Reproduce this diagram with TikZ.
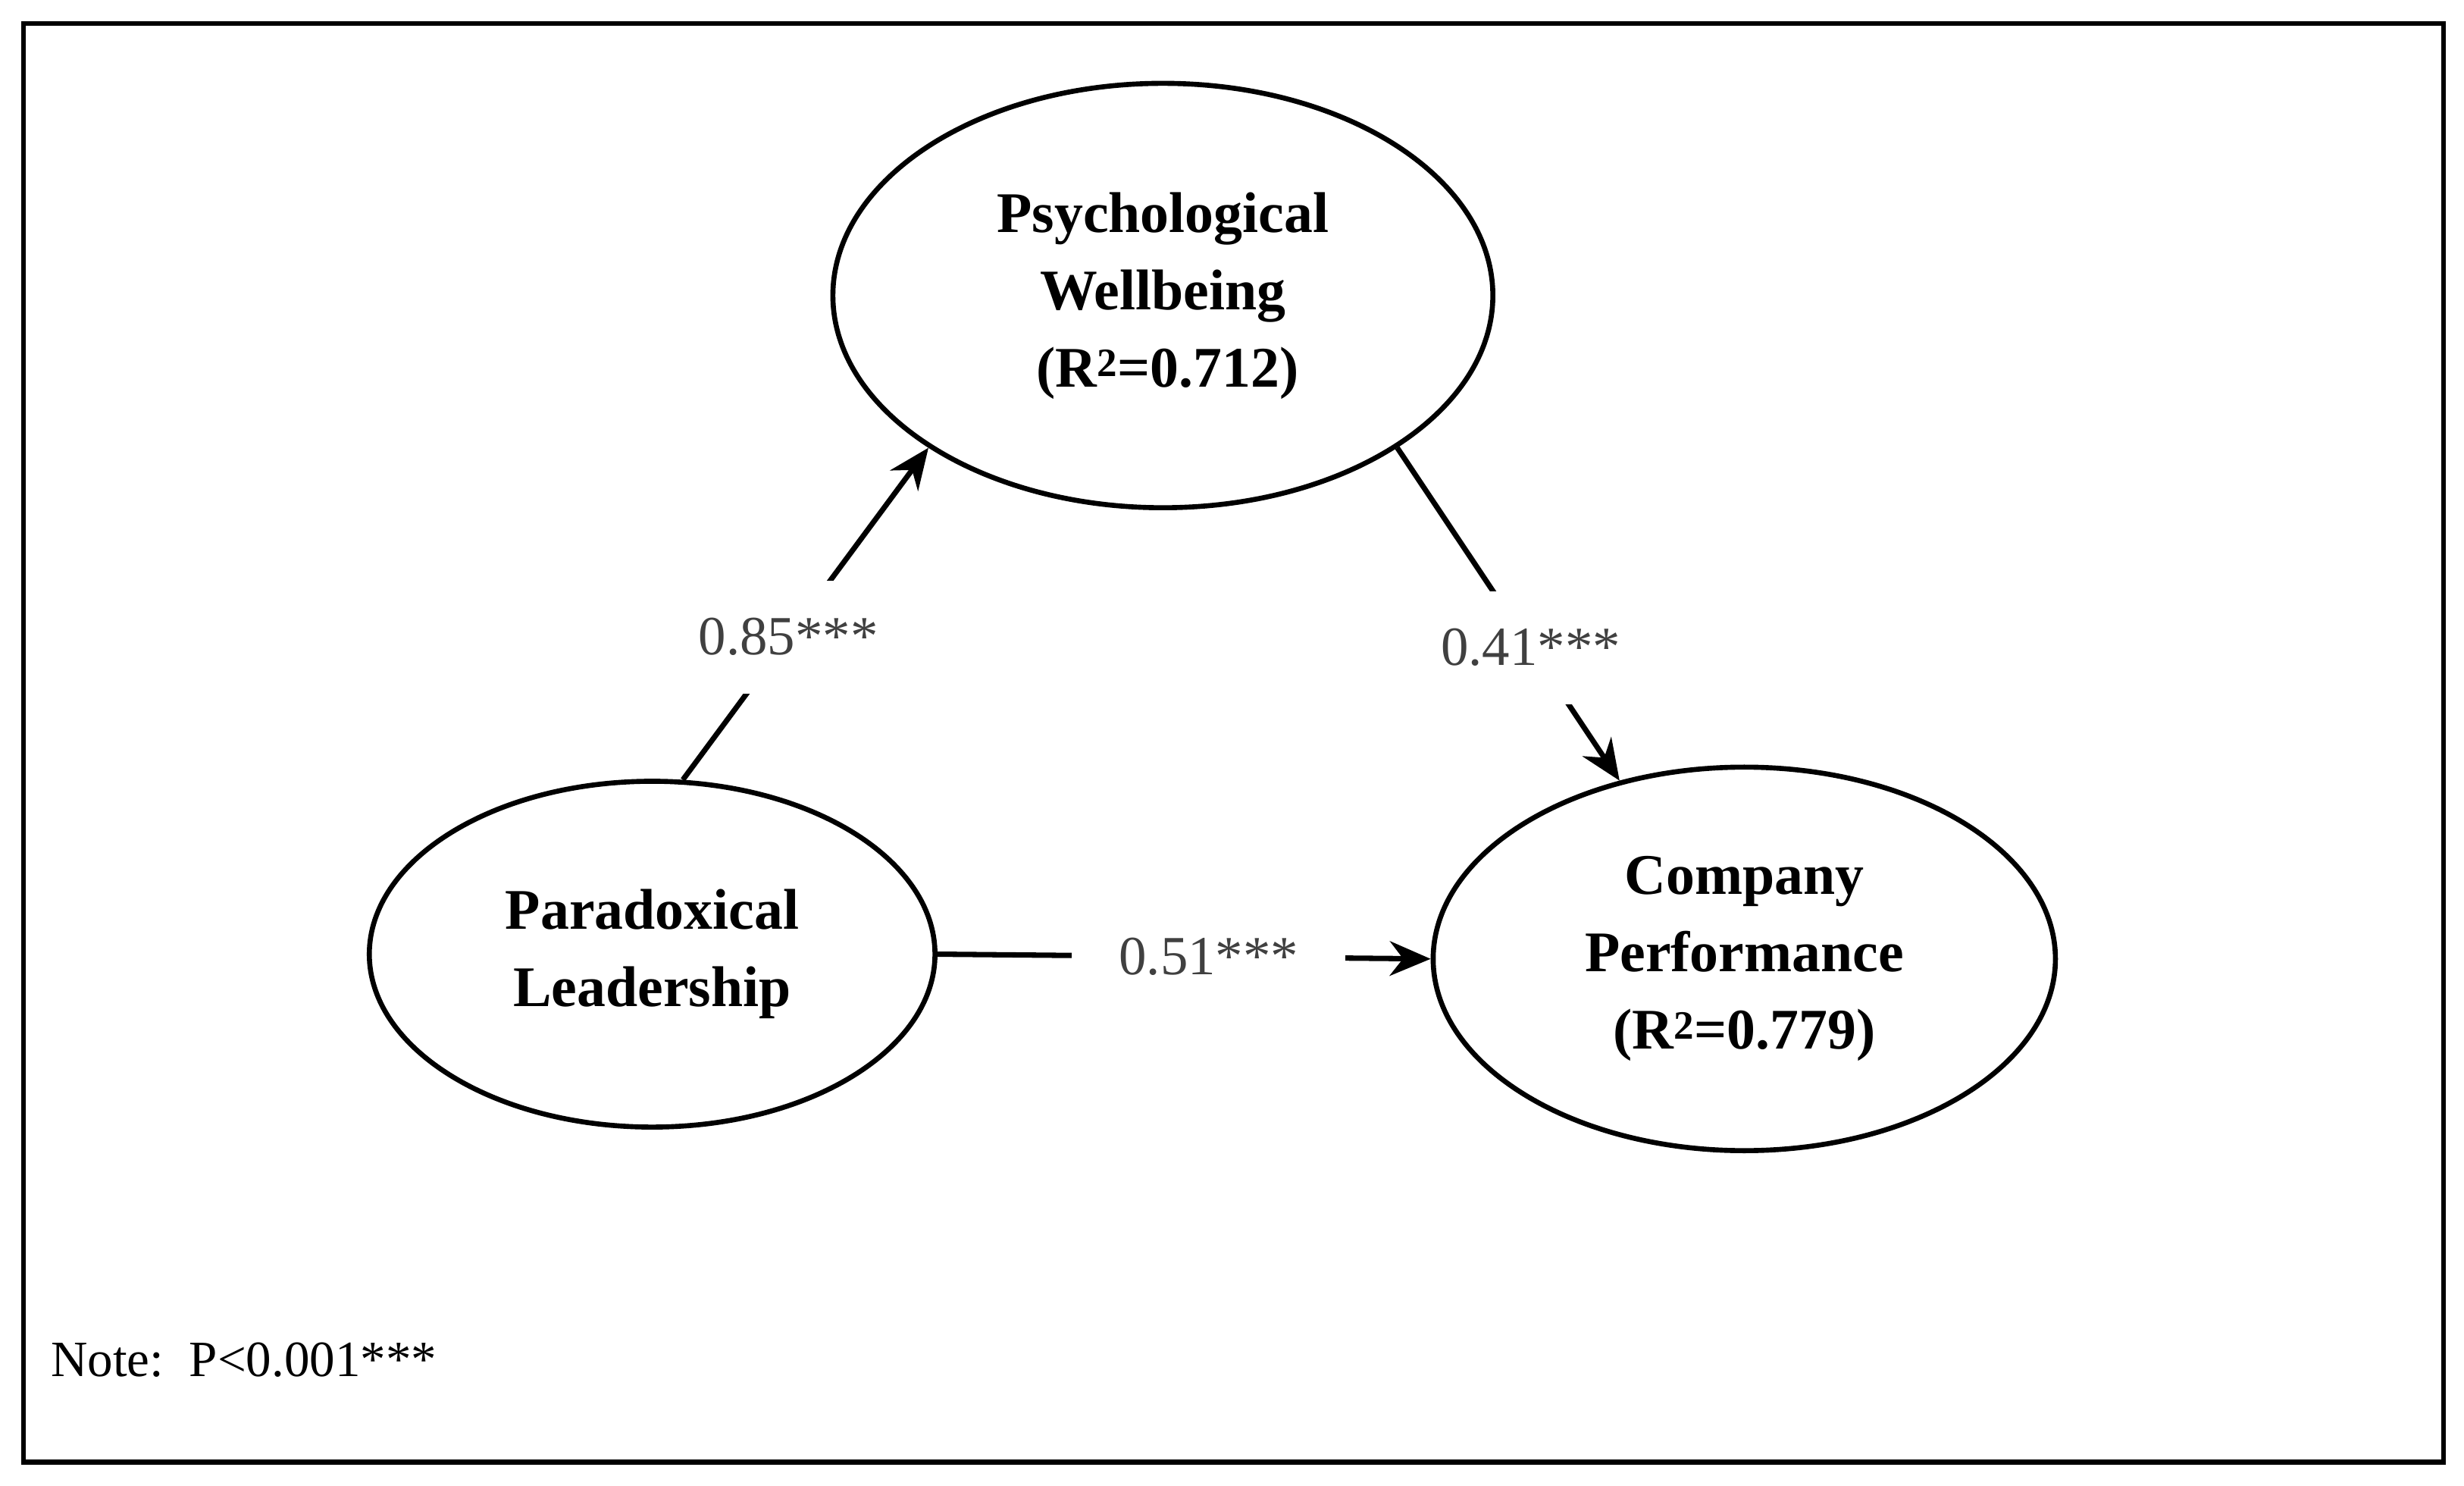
\documentclass[tikz,border=0pt]{standalone}
\usepackage{fontspec}
\setmainfont{Liberation Serif}
\usetikzlibrary{shapes.geometric,arrows.meta}
\begin{document}
\begin{tikzpicture}[x=0.05cm,y=-0.05cm,
  ell/.style={ellipse,draw,line width=0.16cm,align=center,font=\fontsize{52}{70}\selectfont\bfseries},
  lbl/.style={fill=white,inner xsep=0.9cm,inner ysep=1.2cm,font=\fontsize{50}{60}\selectfont,text=black!75},
  arr/.style={line width=0.17cm,-{Stealth[length=1.3cm,width=1.1cm]}}]
\useasboundingbox (0,0) rectangle (1568,945);
\draw[line width=0.16cm] (15,15) rectangle (1555,930);
\node[ell,minimum width=21cm,minimum height=13.5cm] (pw) at (740,188) {Psychological\\Wellbeing\\\,(R\textsuperscript{2}=0.712)};
\node[ell,minimum width=18cm,minimum height=11cm] (pl) at (415,607) {Paradoxical\\Leadership};
\node[ell,minimum width=19.8cm,minimum height=12.2cm] (cp) at (1110,610) {Company\\Performance\\(R\textsuperscript{2}=0.779)};
\draw[arr] (pl.80) -- (pw.213) node[lbl,pos=0.43] (l1) {0.85***};
\draw[arr] (pw.327) -- (cp.125) node[lbl,pos=0.6] (l2) {0.41***};
\draw[arr] (pl.east) -- (cp.west) node[lbl,pos=0.55,inner xsep=1.5cm] (l3) {0.51***};
\node[anchor=west,font=\fontsize{46}{54}\selectfont] (note) at (30,865) {Note:\ \ P<0.001***};
\end{tikzpicture}
\end{document}
